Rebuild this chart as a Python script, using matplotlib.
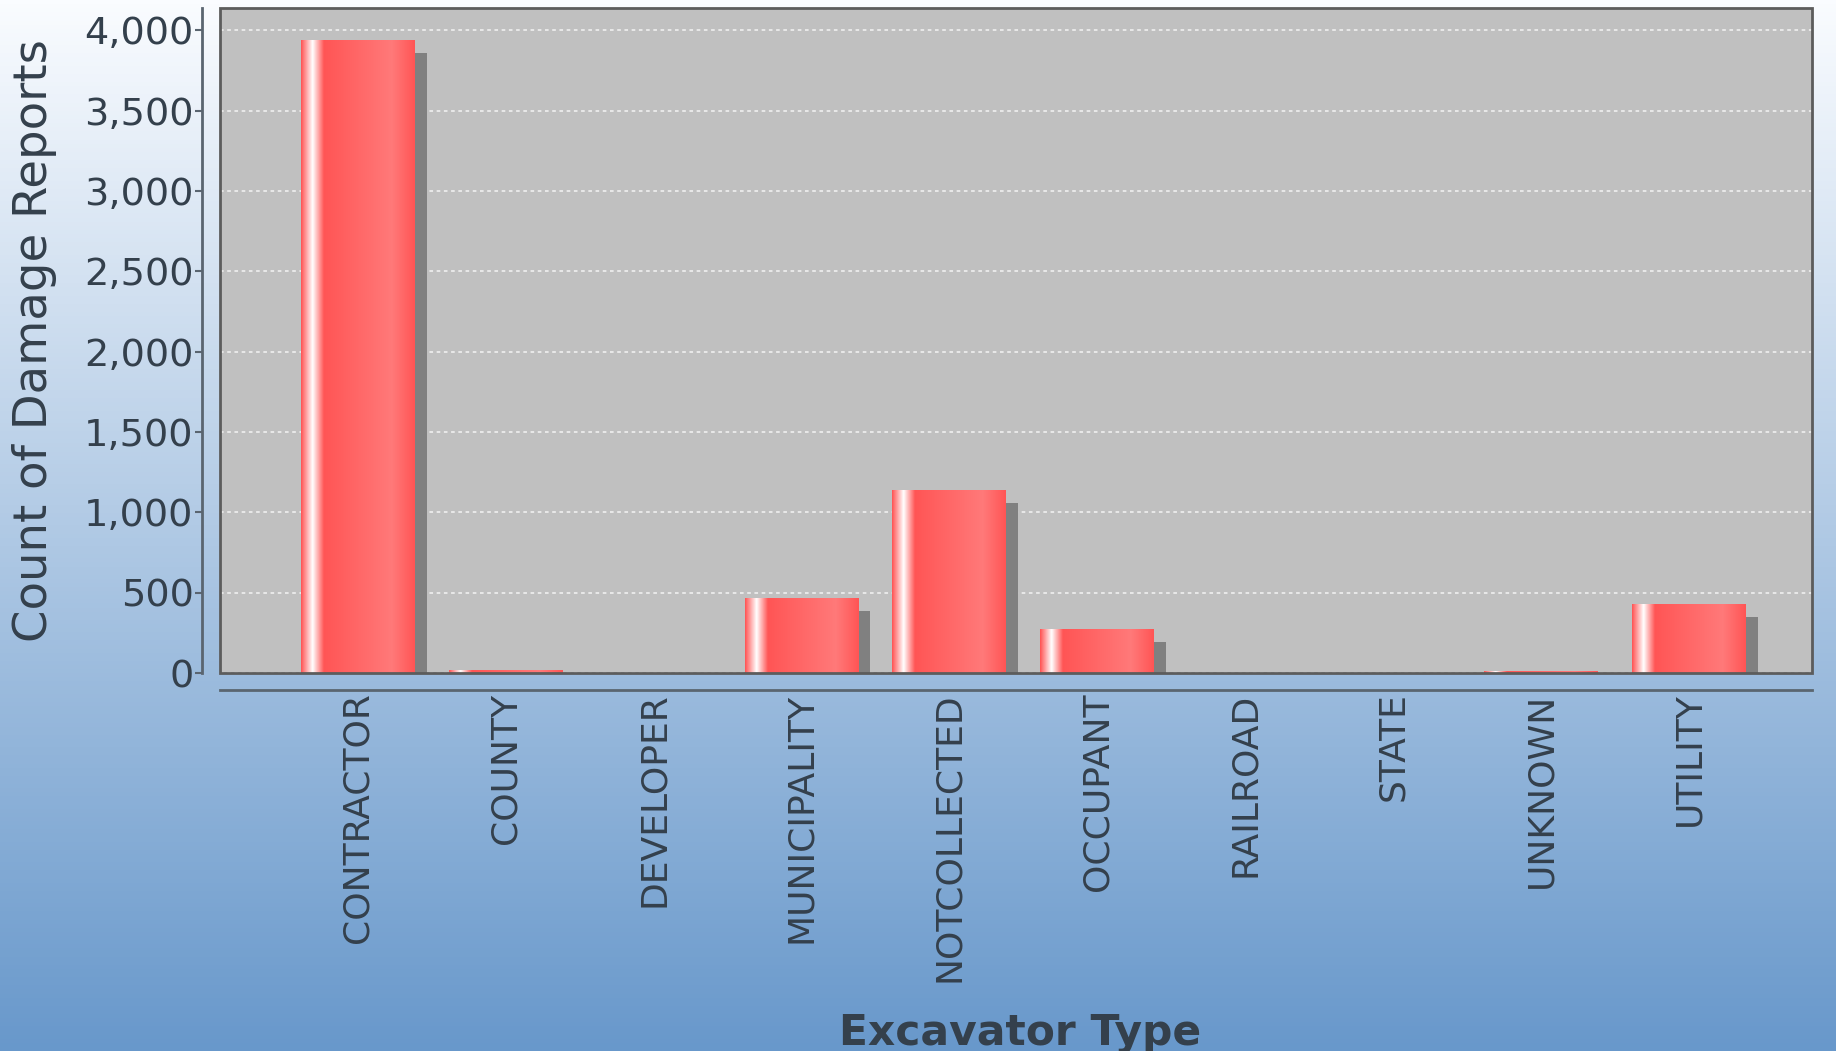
import numpy as np
import matplotlib
matplotlib.use('Agg')
import matplotlib.pyplot as plt
from matplotlib import transforms, patches
from matplotlib.colors import to_rgb
from matplotlib.ticker import FuncFormatter, MultipleLocator

excavator_types = ['CONTRACTOR', 'COUNTY', 'DEVELOPER', 'MUNICIPALITY', 'NOTCOLLECTED',
                   'OCCUPANT', 'RAILROAD', 'STATE', 'UNKNOWN', 'UTILITY']
damage_reports = [3942, 18, 0, 467, 1140, 275, 0, 0, 12, 432]

text_color = '#34404c'
bar_color = '#ff5555'

fig = plt.figure(figsize=(18.36, 10.51), dpi=100)

# vertical white -> blue backdrop for the whole figure
bg = fig.add_axes([0, 0, 1, 1], zorder=0)
top = np.array(to_rgb('#fafcff'))
bottom = np.array(to_rgb('#6898cb'))
t = np.linspace(0, 1, 256)[:, None]
bg.imshow((top + (bottom - top) * t)[:, None, :], aspect='auto', extent=(0, 1, 0, 1))
bg.set_axis_off()

ax = fig.add_axes([220 / 1836, 1 - 673 / 1051, 1592 / 1836, 665 / 1051], zorder=1)
ax.set_facecolor('#c0c0c0')
for side in ['top', 'right']:
    ax.spines[side].set_visible(False)
ax.spines['left'].set_position(('outward', 13))
ax.spines['bottom'].set_position(('outward', 12))
for side in ['left', 'bottom']:
    ax.spines[side].set_color('#5a6570')
    ax.spines[side].set_linewidth(2)

# plot outline drawn over the grid
ax.add_patch(patches.Rectangle((0, 0), 1, 1, transform=ax.transAxes, fill=False,
                               edgecolor='#5c5c5c', linewidth=2, zorder=4, clip_on=False))

x = np.arange(len(excavator_types))
width = 0.77

# drop shadows, shifted right and down in screen space
shadow_tf = transforms.offset_copy(ax.transData, fig=fig, x=12, y=-13, units='dots')
ax.bar(x, damage_reports, width=width, color='#808080', transform=shadow_tf, zorder=2)
bars = ax.bar(x, damage_reports, width=width, color=bar_color, zorder=3)

# horizontal gradient across each bar: base -> white -> base -> brighter -> base
c0 = np.array(to_rgb(bar_color))
c1 = np.minimum(c0 / 0.7, 1.0)
white = np.ones(3)
stop_pos = [0.0, 0.1, 0.2, 0.8, 1.0]
stop_col = [c0, white, c0, c1, c0]
f = np.linspace(0, 1, 200)
profile = np.stack([np.interp(f, stop_pos, [c[i] for c in stop_col]) for i in range(3)], axis=-1)
for bar in bars:
    h = bar.get_height()
    if h <= 0:
        continue
    x0 = bar.get_x()
    im = ax.imshow(profile[None, :, :], extent=(x0, x0 + bar.get_width(), 0, h),
                   aspect='auto', interpolation='bilinear', zorder=3.5)
    im.set_clip_path(bar)

ax.set_xlim(-0.93, 9.83)
ax.set_ylim(0, 4140)

ax.yaxis.set_major_locator(MultipleLocator(500))
ax.yaxis.set_major_formatter(FuncFormatter(lambda v, p: f'{int(v):,}'))
ax.yaxis.grid(True, color='white', linestyle=(0, (2, 2)), linewidth=1.3, alpha=0.7)
ax.set_axisbelow(True)

ax.set_xticks(x)
ax.set_xticklabels(excavator_types, rotation=90)
ax.tick_params(axis='x', length=0, pad=2, labelsize=26, labelcolor=text_color)
ax.tick_params(axis='y', direction='out', length=5, width=1.5, color='#5a6570',
               pad=1, labelsize=27.5, labelcolor=text_color)

ax.set_ylabel('Count of Damage Reports', fontsize=33.5, color=text_color, va='center')
ax.yaxis.set_label_coords(35 / 1836, 0.676, transform=fig.transFigure)
ax.set_xlabel('Excavator Type', fontsize=30.5, fontweight='bold', color=text_color, va='baseline')
ax.xaxis.set_label_coords(1020 / 1836, 1 - 1045 / 1051, transform=fig.transFigure)

fig.savefig('out.png', dpi=100)
